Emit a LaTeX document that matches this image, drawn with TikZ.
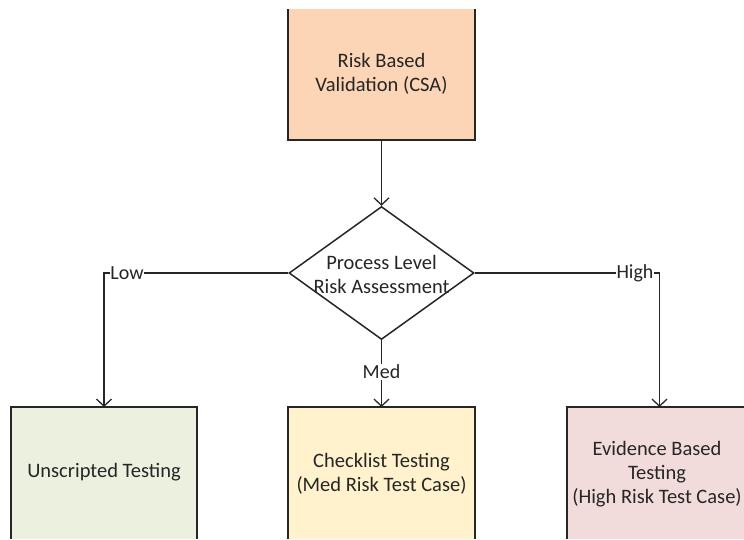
\documentclass[tikz,border=0pt]{standalone}
\usepackage{fontspec}
\setmainfont{Carlito}
\usetikzlibrary{arrows.meta,shapes.geometric}
\definecolor{peach}{HTML}{FBD5B5}
\definecolor{lowgreen}{HTML}{EBF1DE}
\definecolor{medyellow}{HTML}{FFF2CC}
\definecolor{highpink}{HTML}{F2DCDB}
\definecolor{linegray}{HTML}{262626}
\tikzset{
  x=1pt,y=-1pt,
  conn/.style={draw=linegray,line width=1.5pt,-{Straight Barb[length=7pt,width=15pt,line width=1.3pt]}},
  plain/.style={draw=linegray,line width=1.5pt},
  lbl/.style={fill=white,inner sep=0.5pt,font=\fontsize{20}{24}\selectfont,text=linegray},
  txt/.style={font=\fontsize{20.5}{24}\selectfont,align=center,text=linegray},
}
\begin{document}
\begin{tikzpicture}
\useasboundingbox (0,0) rectangle (744,539);
% top box (top edge cut)
\fill[peach] (288,9) rectangle (475,140);
\draw[plain] (288,9) -- (288,140) -- (475,140) -- (475,9);
\node[txt] (top) at (381.5,74) {Risk Based\\Validation (CSA)};
\coordinate (topb) at (381.5,140);
% diamond
\node[diamond,draw=linegray,line width=1.5pt,fill=white,minimum width=185pt,minimum height=133pt,inner sep=0pt,aspect=1.39] (dia) at (381.5,273) {};
\node[txt] (diat) at (381.5,274) {Process Level\\Risk Assessment};
% bottom boxes (bottom edges cut)
\fill[lowgreen] (11,407) rectangle (197,539);
\draw[plain] (11,539) -- (11,407) -- (197,407) -- (197,539);
\node[txt] (low) at (104,472) {Unscripted Testing};
\coordinate (lowt) at (104,407);
\fill[medyellow] (288,407) rectangle (475,539);
\draw[plain] (288,539) -- (288,407) -- (475,407) -- (475,539);
\node[txt] (med) at (381.5,474) {Checklist Testing\\(Med Risk Test Case)};
\coordinate (medt) at (381.5,407);
\fill[highpink] (567,407) rectangle (760,539);
\draw[plain] (567,539) -- (567,407) -- (760,407);
\node[txt] (high) at (657,474) {Evidence Based\\Testing\\(High Risk Test Case)};
\coordinate (hight) at (659.5,407);
% connectors
\draw[conn] (topb) -- (dia.north);
\draw[conn] (dia.west) -- (104,273) -- (lowt);
\node[lbl] (lowl) at (127,273) {Low};
\draw[conn] (dia.east) -- (659.5,273) -- (hight);
\node[lbl] (highl) at (635,273) {High};
\draw[conn] (dia.south) -- (medt);
\node[lbl] (medl) at (381.5,372) {Med};
\end{tikzpicture}
\end{document}
